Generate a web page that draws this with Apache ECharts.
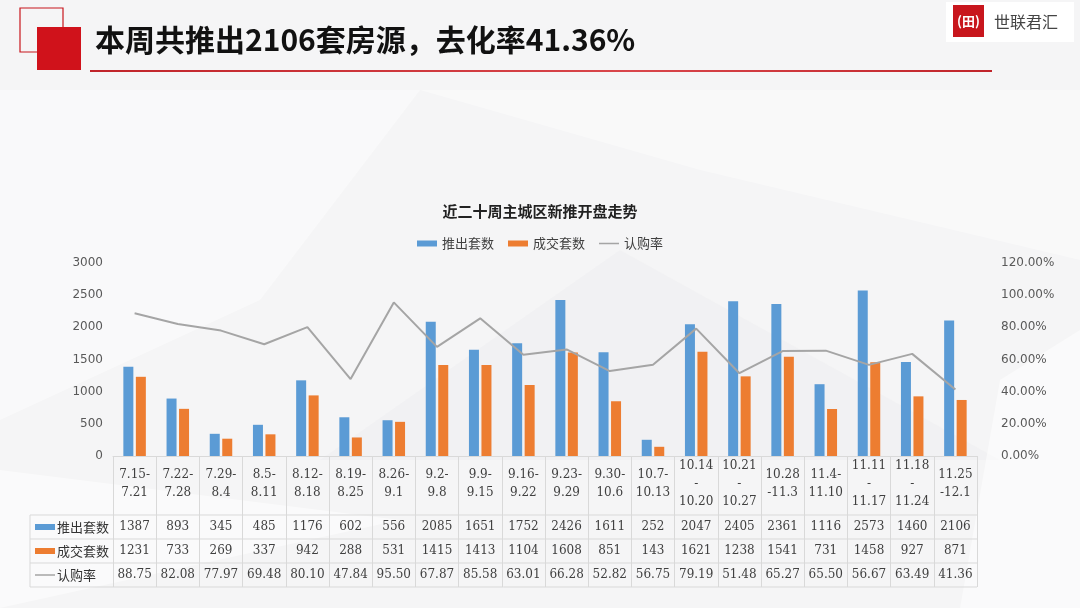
<!DOCTYPE html>
<html><head><meta charset="utf-8">
<script src="https://cdn.jsdelivr.net/npm/echarts@6/dist/echarts.min.js"></script>
<style>html,body{margin:0;padding:0;background:#f5f5f6;}#c{width:1080px;height:608px;}</style>
</head><body><div id="c"></div>
<script>
const categories = ['7.15-\n7.21','7.22-\n7.28','7.29-\n8.4','8.5-\n8.11','8.12-\n8.18','8.19-\n8.25','8.26-\n9.1','9.2-\n9.8','9.9-\n9.15','9.16-\n9.22','9.23-\n9.29','9.30-\n10.6','10.7-\n10.13','10.14\n-\n10.20','10.21\n-\n10.27','10.28\n-11.3','11.4-\n11.10','11.11\n-\n11.17','11.18\n-\n11.24','11.25\n-12.1'];
const pushed = [1387,893,345,485,1176,602,556,2085,1651,1752,2426,1611,252,2047,2405,2361,1116,2573,1460,2106];
const sold = [1231,733,269,337,942,288,531,1415,1413,1104,1608,851,143,1621,1238,1541,731,1458,927,871];
const rate = [88.75,82.08,77.97,69.48,80.10,47.84,95.50,67.87,85.58,63.01,66.28,52.82,56.75,79.19,51.48,65.27,65.50,56.67,63.49,41.36];
const leftTicks = {min:0,max:3000,interval:500};
const rightTicks = {min:0,max:120,interval:20};

const BLUE='#5B9BD5', ORANGE='#ED7D31', GRAY='#A5A5A5';
const TXT='#404040', LINE='#d9d9d9';
const tableFont = 'DejaVu Serif';
const cjk = '"Noto Sans CJK SC"';

const chart = echarts.init(document.getElementById('c'), null, {renderer:'canvas'});

function rowAxis(data, margin){
  return {type:'category', gridIndex:0, position:'bottom', data:data,
    axisLine:{show:false}, axisTick:{show:false}, splitLine:{show:false},
    axisLabel:{interval:0, margin:margin, verticalAlign:'middle', color:TXT, fontFamily:tableFont, fontSize:12}};
}
const hLines = [515,539,563,587].map(y=>({type:'line', shape:{x1:30,y1:y,x2:977,y2:y}, style:{stroke:LINE,lineWidth:1}, z:1}));
const headers = [
  {y:527, name:'推出套数', sw:'rect', color:BLUE},
  {y:551, name:'成交套数', sw:'rect', color:ORANGE},
  {y:575, name:'认购率', sw:'line', color:GRAY}
];
const headerEls = [];
headers.forEach(h=>{
  if(h.sw==='rect') headerEls.push({type:'rect', shape:{x:35,y:h.y-3,width:20,height:6}, style:{fill:h.color}});
  else headerEls.push({type:'line', shape:{x1:35,y1:h.y,x2:55,y2:h.y}, style:{stroke:h.color,lineWidth:1.5}});
  headerEls.push({type:'text', x:57, y:h.y, style:{text:h.name, fill:'#333', font:'13px '+cjk, textVerticalAlign:'middle'}});
});
const lineIcon = 'path://M0,0L0.01,0L0.01,0.01Z M0,2.3L20,2.3L20,3.7L0,3.7Z M19.99,6L20,6L20,5.99Z';

const option = {
  backgroundColor:'#f5f5f6',
  animation:false,
  title:{text:'近二十周主城区新推开盘走势', left:'center', top:199, textStyle:{fontFamily:cjk, fontSize:15, fontWeight:'bold', color:'#222'}},
  legend:{top:232, left:'center', itemWidth:20, itemHeight:6, itemGap:14, textStyle:{fontFamily:cjk, fontSize:13, color:'#404040'},
    data:[{name:'推出套数', icon:'rect'},{name:'成交套数', icon:'rect'},{name:'认购率', icon:lineIcon, itemStyle:{color:GRAY}}]},
  grid:{left:113, right:103, top:263, bottom:152, containLabel:false},
  xAxis:[
    {type:'category', data:categories, gridIndex:0, position:'bottom',
      axisLine:{show:true, lineStyle:{color:LINE}},
      axisTick:{show:true, interval:0, length:131, lineStyle:{color:LINE}},
      axisLabel:{interval:0, margin:28, verticalAlign:'middle', lineHeight:18, color:TXT, fontFamily:tableFont, fontSize:12}},
    rowAxis(pushed.map(String), 71),
    rowAxis(sold.map(String), 95),
    rowAxis(rate.map(v=>v.toFixed(2)), 119)
  ],
  yAxis:[
    {type:'value', min:leftTicks.min, max:leftTicks.max, interval:leftTicks.interval,
      axisLine:{show:false}, axisTick:{show:false}, splitLine:{show:false},
      axisLabel:{margin:10, color:'#595959', fontFamily:'DejaVu Sans', fontSize:12, formatter:v=>String(v)}},
    {type:'value', min:rightTicks.min, max:rightTicks.max, interval:rightTicks.interval, position:'right',
      axisLine:{show:false}, axisTick:{show:false}, splitLine:{show:false},
      axisLabel:{margin:24, color:'#595959', fontFamily:'DejaVu Sans', fontSize:12, formatter:v=>v.toFixed(2)+'%'}}
  ],
  series:[
    {name:'推出套数', type:'bar', data:pushed, barWidth:10, barGap:'25%', itemStyle:{color:BLUE}, z:3},
    {name:'成交套数', type:'bar', data:sold, barWidth:10, barGap:'25%', itemStyle:{color:ORANGE}, z:3},
    {name:'认购率', type:'line', yAxisIndex:1, data:rate, symbol:'none', showSymbol:false, lineStyle:{color:GRAY, width:2}, itemStyle:{color:GRAY}, z:4}
  ],
  graphic:[
    {type:'polygon', shape:{points:[[0,90],[420,90],[260,300],[0,420]]}, style:{fill:'rgba(255,255,255,0.45)'}, z:-10, silent:true},
    {type:'polygon', shape:{points:[[420,90],[1080,90],[1080,260],[700,170]]}, style:{fill:'rgba(255,255,255,0.4)'}, z:-10, silent:true},
    {type:'polygon', shape:{points:[[320,460],[620,250],[1000,460]]}, style:{fill:'rgba(238,238,240,0.45)'}, z:-10, silent:true},
    {type:'polygon', shape:{points:[[0,470],[400,520],[0,608]]}, style:{fill:'rgba(255,255,255,0.5)'}, z:-10, silent:true},
    {type:'polygon', shape:{points:[[1000,380],[1080,330],[1080,608],[960,608]]}, style:{fill:'rgba(255,255,255,0.5)'}, z:-10, silent:true},
    {type:'rect', shape:{x:20,y:8,width:43,height:44}, style:{fill:'none', stroke:'#c8161d', lineWidth:1.2}, z:10},
    {type:'rect', shape:{x:37,y:27,width:44,height:43}, style:{fill:'#d0121b'}, z:11},
    {type:'text', x:95, y:40, style:{text:'本周共推出2106套房源，去化率41.36%', fill:'#111', font:'bold 30px '+cjk, textVerticalAlign:'middle'}, z:11},
    {type:'line', shape:{x1:90,y1:71,x2:992,y2:71}, style:{stroke:new echarts.graphic.LinearGradient(0,0,1,0,[{offset:0,color:'#c0242a'},{offset:0.6,color:'#d9464b'},{offset:1,color:'#c0242a'}]), lineWidth:2}, z:10},
    {type:'rect', shape:{x:946,y:2,width:128,height:40}, style:{fill:'#ffffff'}, z:10},
    {type:'rect', shape:{x:953,y:5,width:31,height:32}, style:{fill:'#c8161d'}, z:11},
    {type:'text', x:968.5, y:21, style:{text:'(田)', fill:'#fff', font:'bold 13px '+cjk, textAlign:'center', textVerticalAlign:'middle'}, z:12},
    {type:'text', x:994, y:22, style:{text:'世联君汇', fill:'#444', font:'16px "Noto Sans CJK SC"', textVerticalAlign:'middle'}, z:11},
    {type:'line', shape:{x1:30,y1:515,x2:30,y2:587}, style:{stroke:LINE,lineWidth:1}},
    ...hLines,
    ...headerEls
  ]
};
chart.setOption(option);
</script></body></html>
